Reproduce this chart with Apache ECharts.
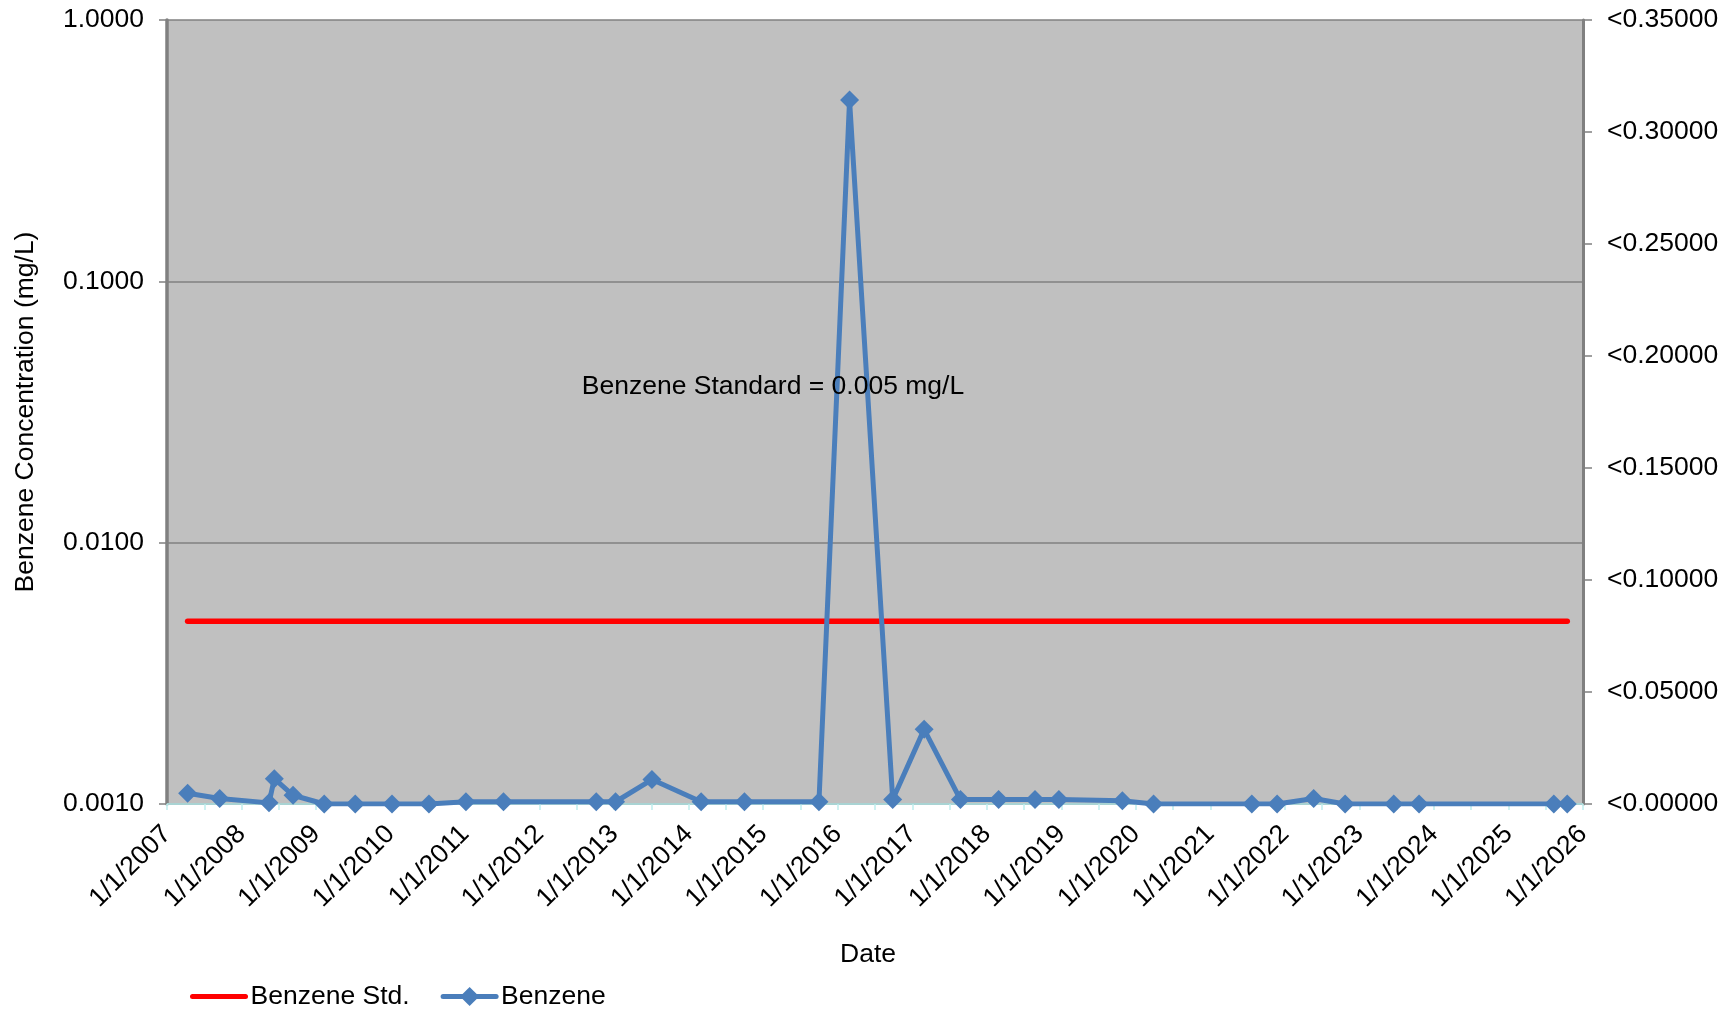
<!DOCTYPE html>
<html>
<head>
<meta charset="utf-8">
<script src="https://cdn.jsdelivr.net/npm/echarts@6/dist/echarts.min.js"></script>
<style>
html,body{margin:0;padding:0;background:#fff;}
#chart{width:1736px;height:1011px;}
</style>
</head>
<body>
<div id="chart"></div>
<script>
// ---- Data ----
const sampleDates = [
  '2007-04-12','2007-09-16','2008-05-15','2008-06-10','2008-09-10',
  '2009-02-10','2009-07-12','2010-01-08','2010-07-08','2011-01-05',
  '2011-07-08','2012-10-05','2013-01-08','2013-07-05','2014-03-03',
  '2014-10-01','2015-10-01','2016-02-28','2016-09-27','2017-02-28',
  '2017-08-25','2018-02-28','2018-08-25','2018-12-20','2019-10-27',
  '2020-03-28','2021-07-23','2021-11-24','2022-05-22','2022-10-23',
  '2023-06-18','2023-10-20','2025-08-11','2025-10-16'
];
const benzeneValues = [
  0.00110,0.00105,0.00101,0.00125,0.00108,
  0.00100,0.00100,0.00100,0.00100,0.00102,
  0.00102,0.00102,0.00102,0.00124,0.00102,
  0.00102,0.00102,0.494,0.00104,0.00193,
  0.00104,0.00104,0.00104,0.00104,0.00103,
  0.00100,0.00100,0.00100,0.00105,0.00100,
  0.00100,0.00100,0.00100,0.00100
];
const stdDates = ['2007-04-12','2025-10-16'];
const stdValues = [0.005,0.005];
const annotationText = 'Benzene Standard = 0.005 mg/L';
const annotationAt = ['2015-02-18', 0.0396];
const xYearMin = 2007, xYearMax = 2026;
const leftTicks = [0.001, 0.01, 0.1, 1];
const rightMin = 0, rightMax = 0.35, rightStep = 0.05;

// date string -> decimal year
function decYear(s){
  const p = s.split('-').map(Number);
  const y = p[0];
  const t = Date.UTC(y, p[1]-1, p[2]);
  const a = Date.UTC(y,0,1), b = Date.UTC(y+1,0,1);
  return y + (t-a)/(b-a);
}

const FONT = "'Liberation Sans', Arial, sans-serif";
const FS = 26.5;
const BLUE = '#4A7EBB';
const chart = echarts.init(document.getElementById('chart'));
chart.setOption({
  animation:false,
  textStyle:{fontFamily:FONT, color:'#000'},
  grid:{left:167,right:153,top:20,bottom:207,show:true,backgroundColor:'#C0C0C0',borderWidth:0},
  legend:{
    left:190, top:983, itemWidth:53, itemHeight:24, itemGap:31, padding:0,
    textStyle:{fontSize:FS,fontFamily:FONT,color:'#000'},
    lineStyle:{width:5,cap:'round'},
    data:[{name:'Benzene Std.',itemStyle:{opacity:0}},{name:'Benzene'}]
  },
  xAxis:{
    type:'value', min:xYearMin, max:xYearMax, interval:1,
    name:'Date', nameLocation:'middle', nameGap:137,
    nameTextStyle:{fontSize:FS,fontFamily:FONT,color:'#000',padding:[0,14,0,0]},
    axisLine:{show:true,onZero:false,lineStyle:{color:'#a9d3d3',width:2}},
    axisTick:{show:true,length:6,lineStyle:{color:'#bfeeee',width:1.5}},
    minorTick:{show:true,splitNumber:2,length:6,lineStyle:{color:'#bfeeee',width:1.5}},
    splitLine:{show:false},
    axisLabel:{rotate:45,margin:26,fontSize:FS,fontFamily:FONT,color:'#000',
      formatter:v=>'1/1/'+Math.round(v)}
  },
  yAxis:[{
    type:'log', logBase:10, min:leftTicks[0], max:leftTicks[leftTicks.length-1],
    name:'Benzene Concentration (mg/L)', nameLocation:'middle', nameGap:128,
    nameTextStyle:{fontSize:FS,fontFamily:FONT,color:'#000'},
    axisLine:{show:true,lineStyle:{color:'#808080',width:3.5}},
    axisTick:{show:true,length:8,lineStyle:{color:'#808080',width:1.5}},
    splitLine:{show:true,lineStyle:{color:'#808080',width:1.5}},
    axisLabel:{margin:23,fontSize:FS,fontFamily:FONT,color:'#000',formatter:v=>v.toFixed(4)}
  },{
    type:'value', position:'right', min:rightMin, max:rightMax, interval:rightStep,
    axisLine:{show:true,lineStyle:{color:'#808080',width:3}},
    axisTick:{show:true,length:9,lineStyle:{color:'#808080',width:1.5}},
    splitLine:{show:false},
    axisLabel:{margin:24,fontSize:FS,fontFamily:FONT,color:'#000',formatter:v=>'<'+v.toFixed(5)}
  }],
  series:[{
    name:'Benzene Std.', type:'line', yAxisIndex:0,
    data:stdDates.map((d,i)=>[decYear(d),stdValues[i]]),
    symbol:'none', lineStyle:{color:'#FF0000',width:5.5,cap:'round'},
    itemStyle:{color:'#FF0000'},
    markPoint:{
      symbol:'circle', symbolSize:0,
      data:[{coord:[decYear(annotationAt[0]),annotationAt[1]],value:annotationText}],
      label:{show:true,position:'inside',formatter:annotationText,fontSize:FS,fontFamily:FONT,color:'#000'}
    }
  },{
    name:'Benzene', type:'line', yAxisIndex:0,
    data:sampleDates.map((d,i)=>[decYear(d),benzeneValues[i]]),
    symbol:'diamond', symbolSize:19,
    lineStyle:{color:BLUE,width:5,join:'round'},
    itemStyle:{color:BLUE},
    z:3
  }]
});
</script>
</body>
</html>
